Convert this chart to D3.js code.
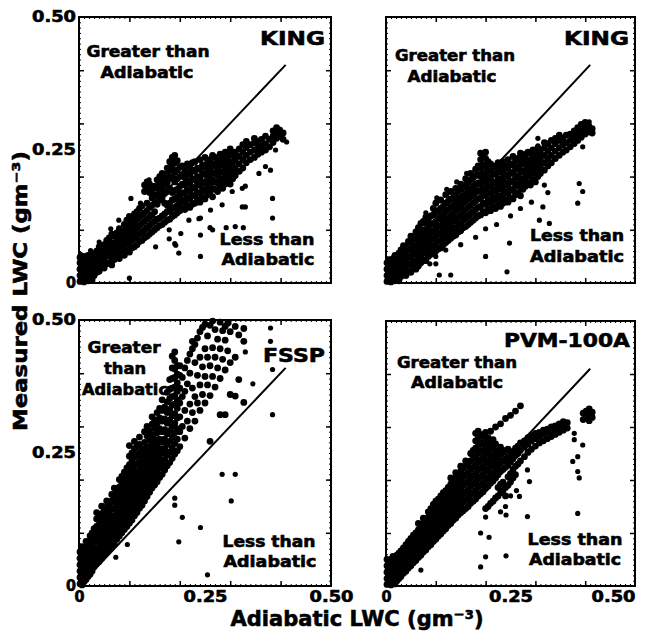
<!DOCTYPE html>
<html>
<head>
<meta charset="utf-8">
<script src="https://cdn.jsdelivr.net/npm/d3@7.9.0/dist/d3.min.js"></script>
<style>
  body { margin: 0; background: #fff; }
  svg text { font-family: "DejaVu Sans", sans-serif; font-weight: bold; fill: #000; stroke: #000; stroke-width: 0.6px; }
</style>
</head>
<body>
<svg id="chart" width="645" height="633"></svg>
<script>
// LWC values in thousandths of g m^-3; columns are [adiabatic, [measured...]]
const kingA = [
  [2,[3,14,26,38,48]],[6,[8,20,32,44]],[10,[2,14,26,38,50]],[14,[8,20,32,44]],
  [18,[4,16,28,40,52]],[22,[10,22,34,46]],[26,[6,18,30,42,55]],[30,[14,26,38,50]],
  [35,[20,32,45,60]],[40,[22,35,52,68]],[45,[30,42,56,66]],[50,[28,40,54,72]],
  [55,[36,50,64,80]],[60,[38,54,70,85]],[65,[34,48,62,76,92]],[70,[44,58,72,88]],
  [75,[50,64,78,94]],[80,[46,60,74,88,102]],[85,[55,70,84,98]],[90,[52,66,80,94,110]],
  [95,[60,74,88,104,118]],[100,[58,72,86,100,112,125]],[105,[66,80,94,108,122]],
  [110,[68,84,98,114,130]],[115,[72,88,104,120,134]],[120,[78,92,108,124,140]],
  [125,[80,96,112,128,145]],[130,[85,100,116,132,172,184]],[135,[88,104,120,136,150,178,190]],
  [140,[92,108,124,142,170,186]],[145,[96,112,128,146,160,176]],[150,[100,116,134,150,166,182]],
  [155,[104,120,148,162,178,194]],[160,[108,122,156,170,186,200]],[165,[110,126,160,176,192,206]],
  [170,[114,130,150,168,184,198]],[175,[118,134,146,172,188,206,216]],[180,[120,136,150,178,196,212,228]],
  [185,[125,140,156,170,200,218,236]],[190,[128,142,158,174,190,208,226,240]],[195,[132,146,162,176,196,212,230]],
  [200,[136,150,166,182,200,218]],[205,[140,156,170,186,204,220]],[210,[138,152,168,184,198,214]],
  [215,[146,160,176,192,208,224]],[220,[142,158,172,188,204,220]],[225,[148,164,180,196,212,226]],
  [230,[150,164,178,194,210,228]],[235,[156,170,186,200,216]],[240,[152,168,184,198,214,232]],
  [245,[160,176,190,206,222]],[250,[158,172,188,204,218,236]],[255,[166,180,196,210,226]],
  [260,[170,186,200,216,232]],[265,[162,178,194,208,224,240]],[270,[176,190,206,220,236]],
  [275,[172,188,202,216,230]],[280,[182,196,210,226,242]],[285,[178,192,208,222,236]],
  [290,[186,200,216,230,246]],[295,[190,206,222,236]],[300,[186,200,214,228,242,252]],
  [305,[196,210,226,240]],[310,[202,216,232,246]],[318,[210,224,238,252]],[325,[216,232,246,260]],
  [332,[226,240,254,266]],[340,[232,246,260]],[348,[236,250,264,272]],[355,[242,254,266]],
  [362,[246,258,270]],[370,[250,262,276]],[378,[256,270]],[385,[264,276,286]],
  [392,[272,284,292]],[398,[276,288]],[405,[270,282]]
];
const kingAOut = [[100,9],[190,74],[198,56],[152,68],[241,50],[241,90],[241,122],[265,100],[310,106],
  [292,104],[326,104],[324,143],[324,178],[384,159],[384,122],[380,212],[390,250],[412,265],[330,143],[260,104],
  [103,159],[122,150],[139,194],[162,196],[79,118],[63,102],[40,77],[23,61],[3,54],
  [96,81],[116,90],[179,83],[192,71],[202,93],[179,100],[218,118],[238,121],[261,137],
  [284,147],[304,172],[330,182],[357,206],[370,219]];

const kingB = [
  [2,[3,14,26,38]],[6,[8,20,32,44]],[10,[2,14,26,38]],[14,[8,20,32,46]],[18,[4,16,28,40,52]],
  [22,[10,22,34,48]],[26,[4,16,28,42,56]],[30,[12,24,36,50,62]],[35,[18,30,44,58,70]],
  [40,[14,26,40,54,68]],[45,[22,36,50,64,78]],[50,[20,34,48,62,76,88]],[55,[28,42,56,70,84]],
  [60,[26,40,54,68,82,96]],[65,[32,46,60,74,88,104]],[70,[38,52,66,80,94,112]],[75,[44,58,72,86,100,116]],
  [80,[42,56,70,84,98,112,124]],[85,[50,64,78,92,106,120]],[90,[54,68,82,96,110,126]],
  [95,[56,70,84,98,112,128,140]],[100,[60,74,88,102,116,132,150]],[105,[64,78,92,106,120,136]],
  [110,[66,80,94,108,124,140,156]],[115,[72,86,100,114,128,144]],[120,[76,90,104,118,134,150,166]],
  [125,[80,94,108,122,138,154]],[130,[84,98,112,126,142,158,172]],[135,[88,102,116,130,146,160]],
  [140,[90,104,120,136,150,166,178]],[145,[96,110,124,140,156,172]],[150,[98,112,128,144,160,176,186]],
  [155,[104,118,134,150,164,180]],[160,[106,122,138,154,168,184,196]],[165,[110,126,142,158,174,190]],
  [170,[114,130,146,162,178,194,206]],[175,[118,134,150,166,182,198]],[180,[122,138,154,170,186,202,214]],
  [185,[126,142,158,174,188,204,220]],[190,[128,144,160,172,186,200,216,232,244]],
  [195,[134,150,166,178,192,206,222,238]],[200,[132,148,164,176,190,204,218,234,246]],
  [205,[140,156,170,184,198,212,228]],[210,[136,152,168,182,196,210,224]],[215,[144,160,176,190,206,220]],
  [220,[140,156,172,188,204,218]],[225,[148,164,180,196,212,226]],[230,[144,160,176,192,208,222]],
  [235,[150,166,182,198,214,228]],[240,[156,172,188,204,220]],[245,[152,168,184,200,216,232]],
  [250,[160,176,192,208,224]],[255,[158,174,190,206,222,238]],[260,[166,182,198,214,230]],
  [265,[170,186,202,218,234]],[270,[164,180,196,212,228,244]],[275,[176,192,208,224,238]],
  [280,[182,198,212,228,242]],[285,[188,204,218,232,246]],[290,[184,200,214,228,244]],
  [295,[194,210,224,238,250]],[300,[190,206,220,234,248]],[305,[200,214,228,242,254]],
  [310,[206,220,234,248]],[318,[212,226,240,254,264]],[325,[220,234,248,262]],[332,[226,240,254,268]],
  [340,[234,248,262,272]],[348,[240,254,268,278]],[355,[246,260,272]],[362,[250,264,278]],
  [370,[256,268,280]],[378,[262,274,286]],[385,[268,280,292]],[392,[274,286,298]],
  [400,[280,292,302]],[407,[284,296]],[414,[290,282]]
];
const kingBOut = [[305,272],[305,258],[395,256],[388,187],[395,172],[385,150],[318,184],[325,170],
  [315,143],[308,118],[328,112],[248,75],[200,50],[243,21],[107,15],[88,36],[100,36],[130,15],[408,303],
  [100,50],[120,62],[150,72],[180,86],[200,102],[222,110],[250,126],[270,140],[292,152],
  [80,132],[102,160],[122,176],[142,190],[162,206]];

const fssp = [
  [2,[4,16,28,40,52,64]],[6,[2,14,26,38,50,62,74]],[10,[8,20,32,44,56,68]],[14,[12,24,36,48,60,72,84]],
  [18,[18,30,42,54,66,78]],[22,[22,34,46,58,70,82,94]],[26,[28,40,52,64,76,88,100]],
  [30,[36,48,60,72,84,96,108]],[35,[42,56,70,84,98,112,126,138]],[40,[46,60,74,88,102,116,130]],
  [45,[52,66,80,94,108,122,136,150]],[50,[58,72,86,100,114,128,142]],[55,[64,78,92,106,120,134,148,160]],
  [60,[70,84,98,112,126,140,154]],[65,[76,90,104,118,132,146,160,172]],[70,[80,96,112,128,144,158,170,184]],
  [75,[88,104,120,136,150,164,178]],[80,[94,110,126,142,156,170,186,200]],[85,[100,116,132,146,160,176,192,206]],
  [90,[106,122,138,152,166,182,198,214]],[95,[112,128,144,158,172,188,204,222]],
  [100,[118,134,150,166,180,196,212,228,244,264]],[105,[124,140,156,172,186,202,218,234,250]],
  [110,[132,148,164,180,194,210,226,242,258,272]],[115,[138,154,170,186,200,214,230,246,262]],
  [120,[146,162,176,190,204,218,234,250,266,280]],[125,[152,168,184,198,212,226,242,258]],
  [130,[160,176,192,206,220,236,252,270,290]],[135,[168,184,200,214,230,246,262,282,300]],
  [140,[176,192,208,224,240,256,274,292]],[145,[184,200,216,232,248,266,284,304,318]],
  [150,[190,206,222,240,258,276,296,312]],[155,[196,214,232,250,268,288,306,326]],
  [160,[204,222,240,258,276,296,316,334]],[165,[210,230,250,270,290,310,330,350]],
  [170,[218,238,258,276,294,314,336]],[175,[226,246,266,286,306,326,346,364]],
  [180,[232,252,272,292,312,332,352,370,388]],[185,[240,260,280,300,320,340,356,372,390,410,432]],
  [190,[248,268,288,306,324,342,358,374,392,408,424,440]],[195,[254,276,296,316,334,350,366,382,398,414]],
  [200,[262,290,318,344,372,396,414]],[205,[300,356,392]],[210,[278,330,366,410]],[215,[310,380,424]],
  [220,[296,342,400,436]],[225,[326,372,446,460]],[230,[310,356,420,454]],[235,[344,396,466]],
  [240,[330,378,430,478]],[245,[360,412,486]],[250,[344,394,446,492]],[255,[378,430,470]],
  [260,[272,358,414,490]],[265,[394,448,498]],[270,[374,430,482]],[275,[410,464]],
  [280,[322,390,446,496]],[285,[426,480]],[290,[322,406,462,488]],[295,[442,494]],
  [300,[360,420,478]],[310,[357,430,488]],[317,[388,472]],[327,[345,460,484]]
];
const fsspOut = [[284,210],[310,210],[302,160],[384,322],[384,407],[241,110],[205,129],[198,83],
  [190,165],[190,152],[255,21],[96,78],[73,54],[380,485],[380,460],[330,440],[345,380]];

const pvm = [
  [2,[3,14,26,38,50]],[6,[8,20,32,44]],[10,[2,14,26,38,50]],[14,[8,20,32,44,56]],[18,[4,16,28,40,52]],
  [22,[10,22,34,46,58]],[26,[14,26,38,50,62]],[30,[18,30,42,54,66]],[35,[24,36,48,60,72]],
  [40,[28,40,52,64,78]],[45,[34,46,58,70,84]],[50,[38,50,62,76,90]],[55,[44,56,68,82,96]],
  [60,[48,60,72,86,100]],[65,[54,66,78,92,106,118]],[70,[58,70,84,98,112]],[75,[64,76,90,104,118,128]],
  [80,[68,82,96,110,124]],[85,[74,88,102,116,130,140]],[90,[78,92,106,120,134,146]],
  [95,[84,98,112,126,140,154]],[100,[88,102,116,130,144,160]],[105,[94,108,122,136,150,164]],
  [110,[98,112,126,140,154,170]],[115,[104,118,132,146,160,176]],[120,[108,122,136,150,164,180]],
  [125,[114,128,142,156,170,186]],[130,[118,132,146,160,176,192,204]],[135,[124,138,152,166,182,198]],
  [140,[128,142,156,172,188,204,214]],[145,[134,148,162,178,194,210]],[150,[138,152,168,184,200,216,226]],
  [155,[142,158,174,190,206,222]],[160,[146,162,178,194,210,226,236]],[165,[150,166,182,198,214,230]],
  [170,[156,172,188,204,220,236,250]],[175,[160,176,192,208,224,240,256]],
  [180,[164,180,196,212,228,244,260,274,288]],[185,[170,186,202,218,234,250,264,278,292]],
  [190,[174,190,206,222,238,254,268,282]],[195,[178,194,210,226,242,256,270,286]],
  [200,[146,184,200,216,232,248,262,276,290]],[205,[150,188,204,220,236,252,266,280]],
  [210,[156,194,210,226,242,258,272,292]],[215,[160,198,214,230,246,262,276]],
  [220,[166,204,220,236,252,268,300]],[225,[170,186,210,226,242,256]],[230,[176,192,216,232,248,262,306]],
  [235,[180,196,220,236,252]],[240,[170,186,224,240,256,316]],[245,[190,206,228,244,258]],
  [250,[196,212,234,248,322]],[255,[204,220,240,254]],[260,[210,226,246,260,330]],
  [265,[230,250,264]],[270,[236,256,270,340]],[278,[244,262,274]],[285,[252,268,280]],
  [292,[258,274,284]],[300,[264,278,288]],[308,[270,282,290]],[316,[274,286,294]],
  [324,[278,290,296]],[332,[282,292,300]],[340,[286,296,302]],[348,[290,300,306]],
  [356,[294,304,310]],[364,[298,308]],[396,[314,326]],[402,[318,330]],[408,[312,324,334]],[414,[318,328]]
];
const pvmOut = [[378,288],[378,276],[395,266],[385,244],[375,235],[385,216],[388,204],[385,137],
  [284,219],[288,197],[284,131],[268,169],[241,134],[200,130],[190,100],[207,92],[200,55],[190,36],
  [241,57],[70,30],[250,170],[240,150],[262,180],[230,140]];

// one-to-one (adiabatic) reference line, g m^-3
const oneToOne = [0, 0.41];
const tickLabels = [0, 0.25, 0.5];

const fmt = d => d === 0 ? '0' : d3.format('.2f')(d);
const toPoints = cols => cols.flatMap(([x, ys]) => ys.map(y => [x / 1000, y / 1000]));
const toSingles = pts => pts.map(([x, y]) => [x / 1000, y / 1000]);

const panels = [
  { title: 'KING', band: toPoints(kingA), out: toSingles(kingAOut), box: [79, 331, 17, 283], left: true, bottom: false,
    titleAt: [325, 45, 65],
    labels: [['Greater than', 148, 57, 123], ['Adiabatic', 147, 78, 93],
             ['Less than', 267, 245, 95], ['Adiabatic', 268, 265, 93]] },
  { title: 'KING', band: toPoints(kingB), out: toSingles(kingBOut), box: [386, 635, 17, 283], left: false, bottom: false,
    titleAt: [629, 45, 65],
    labels: [['Greater than', 455, 61, 120], ['Adiabatic', 452, 82, 89],
             ['Less than', 577, 241, 94], ['Adiabatic', 577, 262, 94]] },
  { title: 'FSSP', band: toPoints(fssp), out: toSingles(fsspOut), box: [79, 331, 320, 586], left: true, bottom: true,
    titleAt: [325, 362, 62],
    labels: [['Greater', 124, 353, 73], ['than', 125, 374, 42], ['Adiabatic', 125, 395, 86],
             ['Less than', 269, 547, 93], ['Adiabatic', 270, 567, 93]] },
  { title: 'PVM-100A', band: toPoints(pvm), out: toSingles(pvmOut), box: [386, 635, 321, 586], left: false, bottom: true,
    titleAt: [630, 347, 126],
    labels: [['Greater than', 457, 368, 120], ['Adiabatic', 457, 388, 92],
             ['Less than', 575, 545, 95], ['Adiabatic', 575, 565, 92]] }
];

const svg = d3.select('#chart');

panels.forEach(p => {
  const [x0, x1, y0, y1] = p.box;
  const x = d3.scaleLinear().domain([0, 0.5]).range([x0, x1]);
  const y = d3.scaleLinear().domain([0, 0.5]).range([y1, y0]);
  const g = svg.append('g');

  g.append('g').selectAll('circle').data(p.band).join('circle')
    .attr('cx', d => x(d[0])).attr('cy', d => y(d[1])).attr('r', 3.4).attr('fill', '#000');
  g.append('g').selectAll('circle').data(p.out).join('circle')
    .attr('cx', d => x(d[0])).attr('cy', d => y(d[1])).attr('r', 2.6).attr('fill', '#000');

  g.append('line')
    .attr('x1', x(oneToOne[0])).attr('y1', y(oneToOne[0]))
    .attr('x2', x(oneToOne[1])).attr('y2', y(oneToOne[1]))
    .attr('stroke', '#000').attr('stroke-width', 2);

  // inward ticks on all four sides
  const major = [0.1, 0.2, 0.3, 0.4];
  const minor = d3.range(0.01, 0.5, 0.01);
  const axes = [
    [d3.axisBottom(x), `translate(0,${y1})`], [d3.axisTop(x), `translate(0,${y0})`],
    [d3.axisLeft(y), `translate(${x0},0)`], [d3.axisRight(y), `translate(${x1},0)`]
  ];
  axes.forEach(([ax, tr]) => {
    g.append('g').attr('transform', tr)
      .call(ax.tickValues(minor).tickSize(-2).tickFormat(''))
      .call(s => s.select('.domain').remove())
      .call(s => s.selectAll('line').attr('stroke', '#000').attr('stroke-width', 1));
    g.append('g').attr('transform', tr)
      .call(ax.tickValues(major).tickSize(-5).tickFormat(''))
      .call(s => s.select('.domain').remove())
      .call(s => s.selectAll('line').attr('stroke', '#000').attr('stroke-width', 1.5));
  });

  g.append('rect').attr('x', x0).attr('y', y0).attr('width', x1 - x0).attr('height', y1 - y0)
    .attr('fill', 'none').attr('stroke', '#000').attr('stroke-width', 2);

  if (p.left) {
    g.append('g').attr('transform', `translate(${x0 - 1},0)`)
      .call(d3.axisLeft(y).tickValues(tickLabels).tickSize(0).tickPadding(2).tickFormat(fmt))
      .call(s => s.select('.domain').remove())
      .call(s => s.selectAll('text').attr('font-size', 15).attr('font-family', null)
        .attr('textLength', d => d === 0 ? 10 : 44).attr('lengthAdjust', 'spacingAndGlyphs'));
  }
  if (p.bottom) {
    g.append('g').attr('transform', `translate(0,${y1 + 3})`)
      .call(d3.axisBottom(x).tickValues(tickLabels).tickSize(0).tickPadding(2).tickFormat(fmt))
      .call(s => s.select('.domain').remove())
      .call(s => s.selectAll('text').attr('font-size', 15).attr('font-family', null)
        .attr('textLength', d => d === 0 ? 10 : 44).attr('lengthAdjust', 'spacingAndGlyphs')
        .attr('text-anchor', d => (!p.left && d === 0.5) ? 'end' : 'middle')
        .attr('x', d => (!p.left && d === 0.5) ? 635 - x(d) : 0));
  }

  g.append('text').attr('x', p.titleAt[0]).attr('y', p.titleAt[1])
    .attr('text-anchor', 'end').attr('font-size', 19).attr('stroke-width', 1.1)
    .attr('textLength', p.titleAt[2]).attr('lengthAdjust', 'spacingAndGlyphs')
    .text(p.title);

  p.labels.forEach(([t, cx, by, w]) => {
    g.append('text').attr('x', cx).attr('y', by).attr('text-anchor', 'middle')
      .attr('font-size', 15).attr('textLength', w).attr('lengthAdjust', 'spacingAndGlyphs')
      .text(t);
  });
});

svg.append('text')
  .attr('transform', 'translate(27,291) rotate(-90)')
  .attr('text-anchor', 'middle').attr('font-size', 20).attr('stroke-width', 0.9)
  .attr('textLength', 280).attr('lengthAdjust', 'spacingAndGlyphs')
  .text('Measured LWC (gm⁻³)');

svg.append('text')
  .attr('x', 357).attr('y', 626)
  .attr('text-anchor', 'middle').attr('font-size', 21).attr('stroke-width', 0.9)
  .attr('textLength', 253).attr('lengthAdjust', 'spacingAndGlyphs')
  .text('Adiabatic LWC (gm⁻³)');
</script>
</body>
</html>
